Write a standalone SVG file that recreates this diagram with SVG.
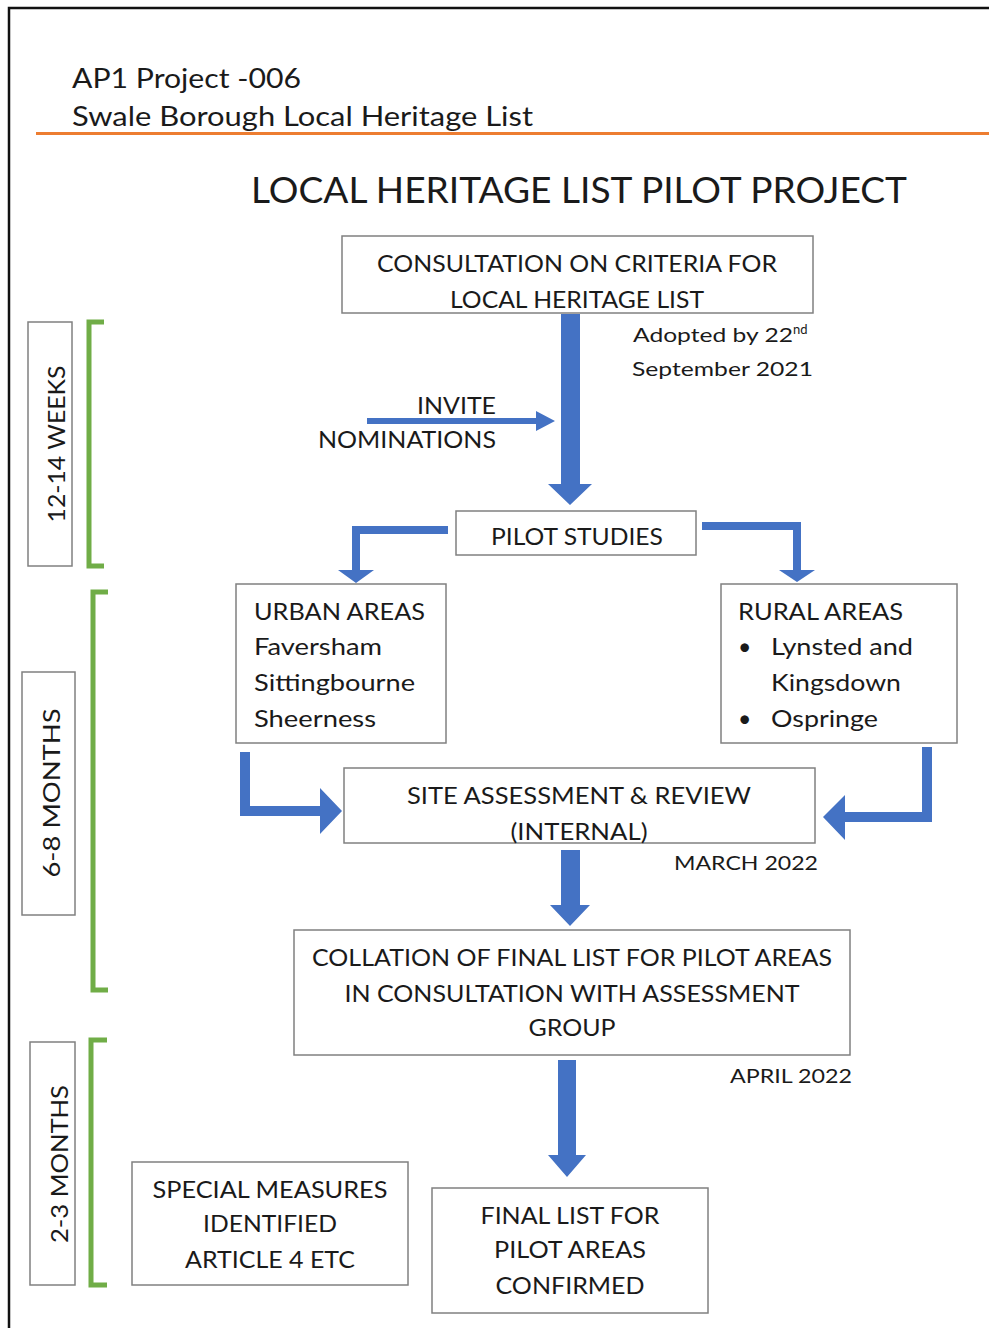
<svg xmlns="http://www.w3.org/2000/svg" width="989" height="1328" viewBox="0 0 989 1328">
<defs>
<style>
text{font-family:Lato,"Open Sans","Liberation Sans",sans-serif;fill:#1a1a1a}
.b{font-size:23px}
.s{font-size:20px}
.c{text-anchor:middle}
.box{fill:#fff;stroke:#808080;stroke-width:1.5}
.arr{fill:#4472C4}
.br{fill:none;stroke:#70AD47;stroke-width:5}
</style>
</defs>
<rect x="0" y="0" width="989" height="1328" fill="#fff"/>
<path d="M9,1328 V8 H989" fill="none" stroke="#111" stroke-width="2.5"/>
<g id="header">
<text x="72" y="88" font-size="27" textLength="229" lengthAdjust="spacingAndGlyphs">AP1 Project -006</text>
<text x="72" y="126" font-size="27" textLength="461" lengthAdjust="spacingAndGlyphs">Swale Borough Local Heritage List</text>
<line x1="36" y1="133.5" x2="989" y2="133.5" stroke="#ED7D31" stroke-width="3"/>
</g>
<g id="title">
<text x="251" y="203" font-size="37" textLength="656" lengthAdjust="spacingAndGlyphs">LOCAL HERITAGE LIST PILOT PROJECT</text>
</g>
<g id="connectors">
<polygon class="arr" points="561,314 580,314 580,484 592,484 570,505 548,484 561,484"/>
<polygon class="arr" points="367,418 536,418 536,411 555,421 536,431 536,424 367,424"/>
<polygon class="arr" points="448,526 448,534 360,534 360,570 374,570 356,583 338,570 352,570 352,526"/>
<polygon class="arr" points="702,522 801,522 801,570 815,570 797,582 779,570 793,570 793,530 702,530"/>
<polygon class="arr" points="240,752 250,752 250,806 320,806 320,788 342,811 320,834 320,816 240,816"/>
<polygon class="arr" points="922,747 932,747 932,822 845,822 845,840 823,817 845,795 845,812 922,812"/>
<polygon class="arr" points="561,850 580,850 580,905 590,905 570,926 550,905 561,905"/>
<polygon class="arr" points="558,1060 576,1060 576,1155 586,1155 567,1177 548,1155 558,1155"/>
</g>
<g id="consultation">
<rect class="box" x="342" y="236" width="471" height="77"/>
<text class="b c" x="577" y="272" textLength="400" lengthAdjust="spacingAndGlyphs">CONSULTATION ON CRITERIA FOR</text>
<text class="b c" x="577" y="308" textLength="254" lengthAdjust="spacingAndGlyphs">LOCAL HERITAGE LIST</text>
</g>
<g id="adopted">
<text class="s" x="633" y="342"><tspan textLength="160" lengthAdjust="spacingAndGlyphs">Adopted by 22</tspan><tspan font-size="13" dy="-8">nd</tspan></text>
<text class="s" x="632" y="376" textLength="181" lengthAdjust="spacingAndGlyphs">September 2021</text>
</g>
<g id="invite">
<text class="b" x="417" y="414" textLength="79" lengthAdjust="spacingAndGlyphs">INVITE</text>
<text class="b" x="318" y="448" textLength="178" lengthAdjust="spacingAndGlyphs">NOMINATIONS</text>
</g>
<g id="pilot-studies">
<rect class="box" x="456" y="511" width="240" height="44"/>
<text class="b c" x="577" y="545" textLength="172" lengthAdjust="spacingAndGlyphs">PILOT STUDIES</text>
</g>
<g id="urban">
<rect class="box" x="236" y="584" width="210" height="159"/>
<text class="b" x="254" y="620" textLength="171" lengthAdjust="spacingAndGlyphs">URBAN AREAS</text>
<text class="b" x="254" y="655" textLength="128" lengthAdjust="spacingAndGlyphs">Faversham</text>
<text class="b" x="254" y="691" textLength="161" lengthAdjust="spacingAndGlyphs">Sittingbourne</text>
<text class="b" x="254" y="727" textLength="122" lengthAdjust="spacingAndGlyphs">Sheerness</text>
</g>
<g id="rural">
<rect class="box" x="721" y="584" width="236" height="159"/>
<text class="b" x="738" y="620" textLength="165" lengthAdjust="spacingAndGlyphs">RURAL AREAS</text>
<text class="b" x="738" y="655">•</text>
<text class="b" x="771" y="655" textLength="142" lengthAdjust="spacingAndGlyphs">Lynsted and</text>
<text class="b" x="771" y="691" textLength="130" lengthAdjust="spacingAndGlyphs">Kingsdown</text>
<text class="b" x="738" y="727">•</text>
<text class="b" x="771" y="727" textLength="107" lengthAdjust="spacingAndGlyphs">Ospringe</text>
</g>
<g id="site-assessment">
<rect class="box" x="344" y="768" width="471" height="75"/>
<text class="b c" x="579" y="804" textLength="344" lengthAdjust="spacingAndGlyphs">SITE ASSESSMENT &amp; REVIEW</text>
<text class="b c" x="579" y="840" textLength="137" lengthAdjust="spacingAndGlyphs">(INTERNAL)</text>
</g>
<g id="march">
<text class="s" x="674" y="870" textLength="144" lengthAdjust="spacingAndGlyphs">MARCH 2022</text>
</g>
<g id="collation">
<rect class="box" x="294" y="930" width="556" height="125"/>
<text class="b c" x="572" y="966" textLength="520" lengthAdjust="spacingAndGlyphs">COLLATION OF FINAL LIST FOR PILOT AREAS</text>
<text class="b c" x="572" y="1002" textLength="455" lengthAdjust="spacingAndGlyphs">IN CONSULTATION WITH ASSESSMENT</text>
<text class="b c" x="572" y="1036" textLength="87" lengthAdjust="spacingAndGlyphs">GROUP</text>
</g>
<g id="april">
<text class="s" x="730" y="1083" textLength="122" lengthAdjust="spacingAndGlyphs">APRIL 2022</text>
</g>
<g id="special-measures">
<rect class="box" x="132" y="1162" width="276" height="123"/>
<text class="b c" x="270" y="1198" textLength="235" lengthAdjust="spacingAndGlyphs">SPECIAL MEASURES</text>
<text class="b c" x="270" y="1232" textLength="134" lengthAdjust="spacingAndGlyphs">IDENTIFIED</text>
<text class="b c" x="270" y="1268" textLength="170" lengthAdjust="spacingAndGlyphs">ARTICLE 4 ETC</text>
</g>
<g id="final-list">
<rect class="box" x="432" y="1188" width="276" height="125"/>
<text class="b c" x="570" y="1224" textLength="179" lengthAdjust="spacingAndGlyphs">FINAL LIST FOR</text>
<text class="b c" x="570" y="1258" textLength="152" lengthAdjust="spacingAndGlyphs">PILOT AREAS</text>
<text class="b c" x="570" y="1294" textLength="149" lengthAdjust="spacingAndGlyphs">CONFIRMED</text>
</g>
<g id="weeks-12-14">
<rect class="box" x="28" y="322" width="44" height="244"/>
<text class="b c" transform="translate(65,444) rotate(-90)" x="0" y="0" textLength="157" lengthAdjust="spacingAndGlyphs">12-14 WEEKS</text>
<path class="br" d="M104,322 H89 V566 H104"/>
</g>
<g id="months-6-8">
<rect class="box" x="22" y="672" width="53" height="243"/>
<text class="b c" transform="translate(60,793) rotate(-90)" x="0" y="0" textLength="169" lengthAdjust="spacingAndGlyphs">6-8  MONTHS</text>
<path class="br" d="M108,592 H93 V990 H108"/>
</g>
<g id="months-2-3">
<rect class="box" x="30" y="1042" width="45" height="243"/>
<text class="b c" transform="translate(68,1164) rotate(-90)" x="0" y="0" textLength="158" lengthAdjust="spacingAndGlyphs">2-3 MONTHS</text>
<path class="br" d="M107,1040 H91 V1285 H107"/>
</g>
</svg>
